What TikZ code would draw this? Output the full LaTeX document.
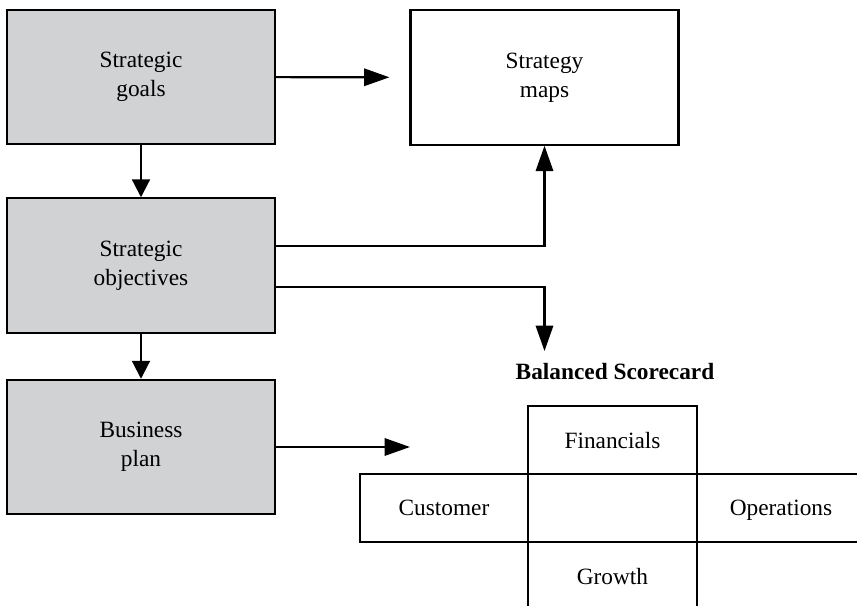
\documentclass[tikz,border=0pt]{standalone}
\usepackage{fontspec}
\setmainfont{Liberation Serif}
\usepackage{xcolor}
\usepackage{tikz}
\usetikzlibrary{arrows.meta,positioning,calc}
\definecolor{boxgrey}{RGB}{209,210,212}

\begin{document}
\begin{tikzpicture}[x=0.75pt,y=-0.75pt,
    font=\fontsize{17.5}{21.5}\selectfont,
    stage/.style={draw, line width=1.6pt, fill=boxgrey, align=center,
        minimum width=201pt, minimum height=100.75pt, inner sep=0pt},
    plainstage/.style={stage, fill=white},
    cell/.style={draw, line width=1.6pt, minimum width=126.4pt,
        minimum height=51pt, inner sep=0pt, outer sep=0pt, text depth=0pt},
    longarrow/.style={line width=1.6pt, -{Triangle[length=19pt,width=13pt]}},
    shortarrow/.style={line width=1.6pt, -{Triangle[length=13.5pt,width=13.5pt]}}]
    \clip (0,0) rectangle (857,606);

    % Planning boxes
    \node[stage] (goals) at (141,77) {Strategic\\goals};
    \node[stage] (objectives) at (141,265.5) {Strategic\\objectives};
    \node[stage] (plan) at (141,447) {Business\\plan};
    \node[plainstage] (maps) at (544.5,77.5) {Strategy\\maps};

    % Balanced scorecard
    \node[font=\fontsize{17.5}{21.5}\selectfont\bfseries] (bsctitle) at (615,372) {Balanced Scorecard};
    \node[cell] (core) at (612.5,508) {};
    \node[cell, above=0pt of core] (financials) {Financials};
    \node[cell, below=0pt of core] (growth) {Growth};
    \node[cell, left=0pt of core] (customer) {Customer};
    \node[cell, right=0pt of core] (operations) {Operations};

    % Arrows
    \draw[longarrow, shorten >=15pt] (goals) -- (maps);
    \draw[shortarrow] (goals) -- (objectives);
    \draw[shortarrow] (objectives) -- (plan);
    \draw[longarrow] ($(objectives.east)+(0,-19.5)$) -| (maps.south);
    \coordinate (bscin) at (544.5,351);
    \draw[longarrow] ($(objectives.east)+(0,21.5)$) -| (bscin);
    \coordinate (planend) at (410,447);
    \draw[longarrow] (plan) -- (planend);
\end{tikzpicture}
\end{document}
